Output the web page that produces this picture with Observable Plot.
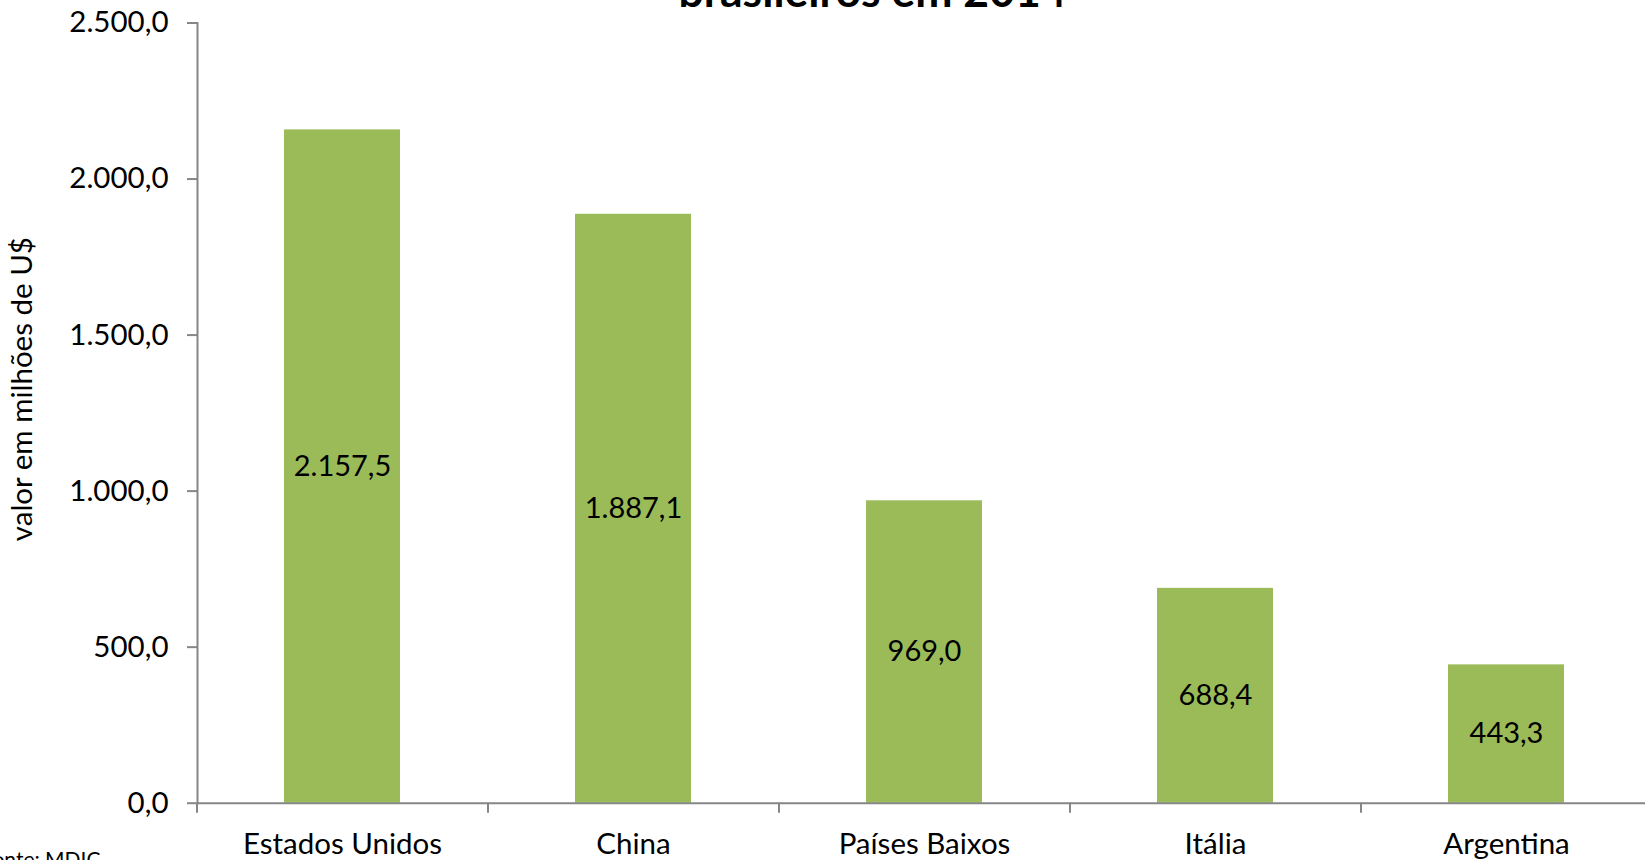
<!DOCTYPE html>
<html>
<head>
<meta charset="utf-8">
<script src="https://cdn.jsdelivr.net/npm/d3@7"></script>
<script src="https://cdn.jsdelivr.net/npm/@observablehq/plot@0.6"></script>
<style>
  html, body { margin: 0; padding: 0; background: #fff; overflow: hidden; }
</style>
</head>
<body>
<div id="chart"></div>
<script>
const categories = ["Estados Unidos", "China", "Países Baixos", "Itália", "Argentina"];
const values = [2157.5, 1887.1, 969.0, 688.4, 443.3];
const yTicks = [0, 500, 1000, 1500, 2000, 2500];
const titleText = "brasileiros em 2014";
const yLabel = "valor em milhões de U$";
const sourceText = "Fonte: MDIC";

const data = categories.map((c, i) => ({pais: c, valor: values[i]}));
const locale = d3.formatLocale({decimal: ",", thousands: ".", grouping: [3], currency: ["", ""]});
const fmt = locale.format(",.1f");

const W = 1645, H = 860;
const mL = 197, mT = 22.5, mB = 57.3;
const xRange = [197, 1652];
const pIn = 0.6, pOut = 0.3;
const step = (xRange[1] - xRange[0]) / (categories.length - pIn + 2 * pOut);
const plotH = H - mT - mB;
const tickLenUnits = 10 * 2500 / plotH;
const gray = "#868686";
const fs = 29.5;

const chart = Plot.plot({
  width: W,
  height: H,
  marginLeft: mL,
  marginRight: 0,
  marginTop: mT,
  marginBottom: mB,
  style: {fontFamily: "Lato", fontSize: fs + "px", color: "#000", background: "#fff"},
  x: {domain: categories, range: xRange, paddingInner: pIn, paddingOuter: pOut, align: 0.5},
  y: {domain: [0, 2500]},
  marks: [
    Plot.barY(data, {x: "pais", y: "valor", fill: "#9BBB59"}),
    Plot.text(data, {x: "pais", y: d => d.valor / 2, text: d => fmt(d.valor), fill: "#000", fontSize: 29, lineAnchor: "middle"}),
    Plot.frame({anchor: "left", stroke: gray, strokeWidth: 2}),
    Plot.ruleY([0], {stroke: gray, strokeWidth: 2}),
    Plot.ruleX(categories, {x: d => d, y1: 0, y2: -tickLenUnits, dx: -step / 2, stroke: gray, strokeWidth: 2}),
    Plot.axisY({ticks: yTicks, tickFormat: fmt, tickSize: 10, tickPadding: 19, stroke: gray, strokeWidth: 2, fill: "#000", fontSize: fs, label: null}),
    Plot.axisX({tickSize: 0, tickPadding: 30, fill: "#000", fontSize: fs, label: null}),
    Plot.text([yLabel], {frameAnchor: "left", dx: -175, dy: -24, rotate: -90, textAnchor: "middle", lineAnchor: "middle", fontSize: fs, fill: "#000"}),
    Plot.text([titleText], {frameAnchor: "top", dx: -49, dy: -16.5, lineAnchor: "bottom", fontWeight: "bold", fontSize: 44.5, fill: "#000"}),
    Plot.text([sourceText], {frameAnchor: "bottom-left", dx: -97, dy: 49, textAnchor: "end", lineAnchor: "top", fontSize: 21, fill: "#000"})
  ]
});
document.getElementById("chart").appendChild(chart);
</script>
</body>
</html>
